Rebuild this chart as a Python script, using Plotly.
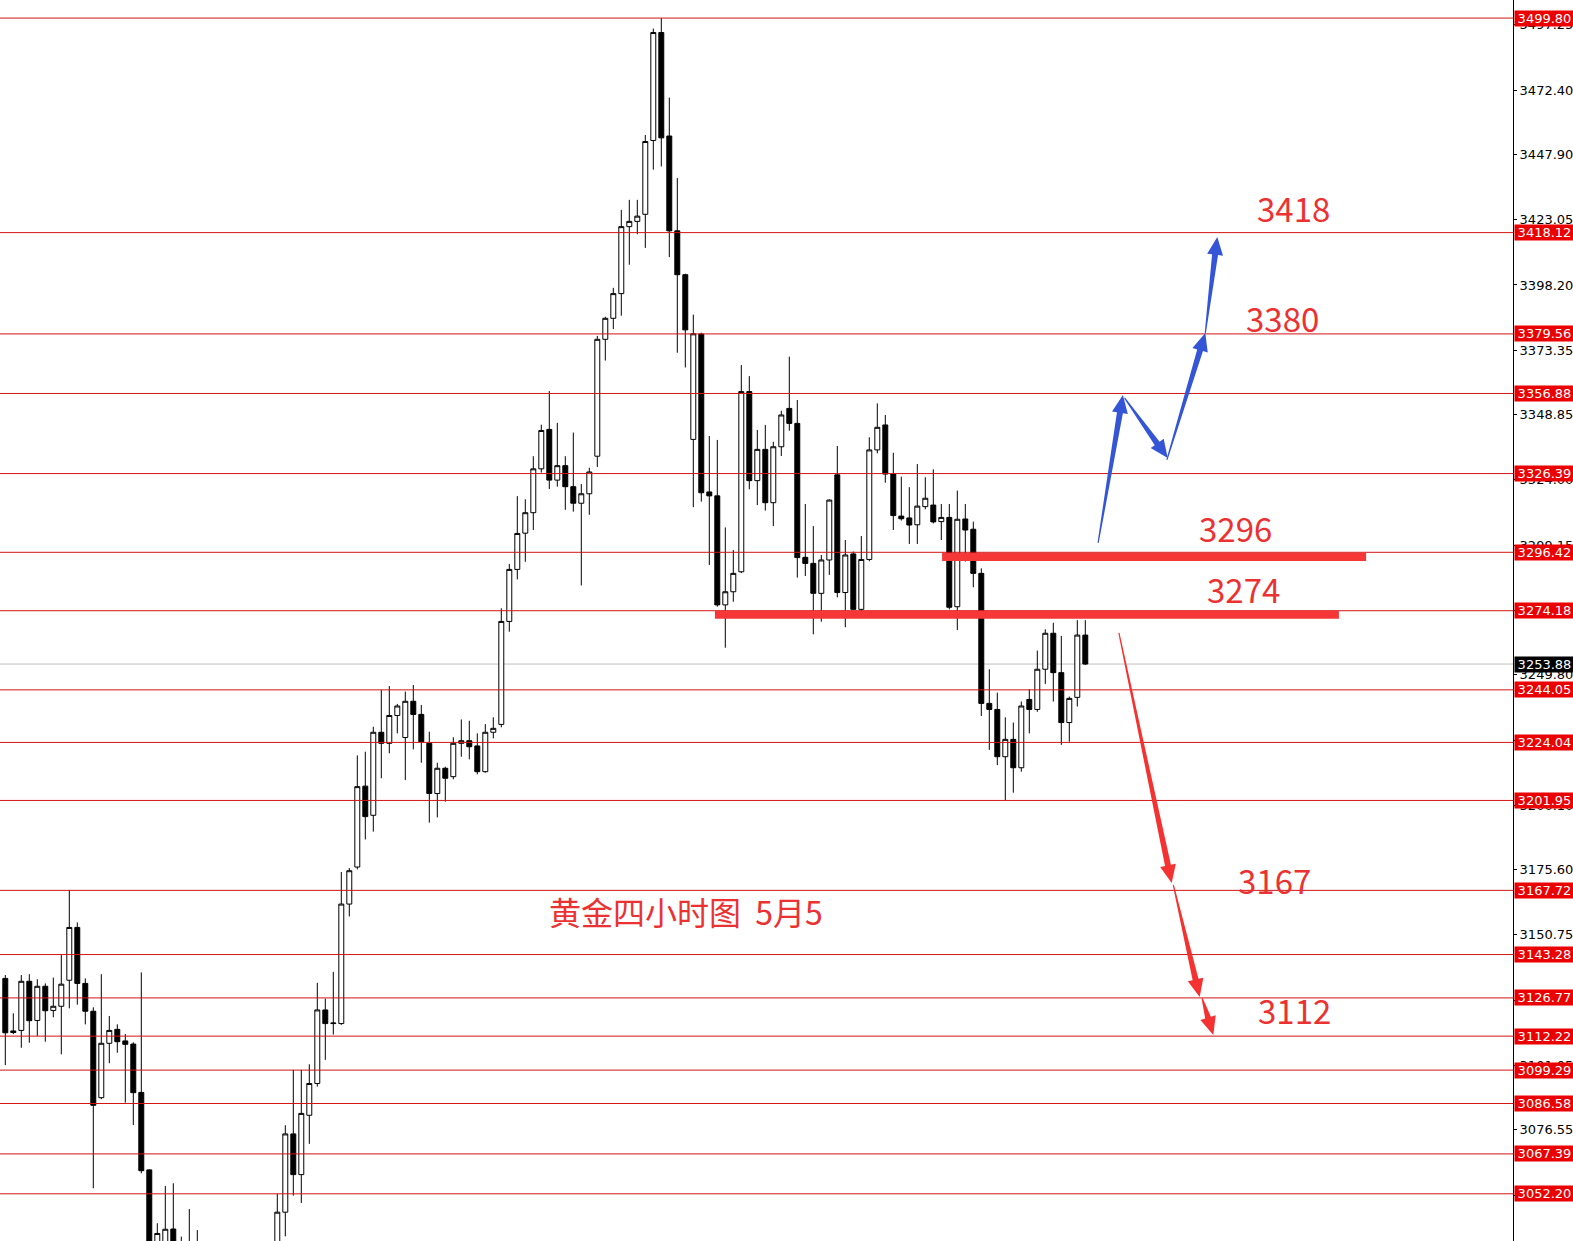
import math
import plotly.graph_objects as go

# ---------------- data ----------------
opens = [3134.2, 3114.2, 3114.4, 3133.1, 3118.2, 3131.2, 3122.0, 3123.6, 3133.5, 3153.6,
         3132.3, 3121.7, 3088.8, 3109.5, 3114.8, 3110.4, 3109.2, 3090.8, 3061.3, 3022.0,
         3030.0, 3038.8, 3026.0, 3022.0, 3018.0, 3012.0, 3004.0, 3010.0, 3000.0, 3008.0,
         3015.0, 3010.0, 3020.0, 3016.0, 3030.0, 3045.2, 3075.0, 3059.5, 3082.1, 3094.2,
         3122.2, 3117.0, 3117.0, 3162.5, 3176.6, 3207.4, 3196.3, 3227.9, 3223.7, 3234.3,
         3225.9, 3239.7, 3234.7, 3223.7, 3204.6, 3214.2, 3211.0, 3223.7, 3224.7, 3222.7,
         3212.9, 3227.9, 3230.9, 3270.1, 3289.9, 3303.7, 3311.5, 3328.2, 3343.2, 3323.9,
         3329.4, 3321.4, 3315.1, 3318.7, 3333.0, 3377.5, 3385.5, 3394.9, 3420.4, 3422.4,
         3425.1, 3453.2, 3494.3, 3454.9, 3418.8, 3402.1, 3339.4, 3379.5, 3319.4, 3317.9,
         3276.4, 3281.4, 3289.0, 3357.6, 3323.7, 3335.6, 3315.3, 3336.6, 3351.2, 3345.5,
         3294.5, 3292.2, 3280.8, 3293.5, 3325.9, 3281.1, 3295.8, 3274.7, 3293.7, 3335.4,
         3344.9, 3326.2, 3310.2, 3309.5, 3306.9, 3313.8, 3314.4, 3308.1, 3309.7, 3275.7,
         3309.1, 3305.2, 3288.4, 3238.9, 3236.6, 3218.6, 3225.2, 3214.4, 3240.4, 3236.6,
         3251.9, 3265.6, 3250.6, 3231.6, 3241.2, 3264.9]
highs = [3135.5, 3120.9, 3135.5, 3135.8, 3133.9, 3132.3, 3134.5, 3143.1, 3167.9, 3155.5,
         3134.2, 3123.2, 3135.8, 3119.9, 3116.7, 3113.0, 3109.9, 3136.5, 3061.5, 3041.0,
         3055.2, 3056.2, 3035.9, 3046.4, 3038.4, 3025.0, 3018.0, 3022.0, 3015.0, 3024.0,
         3028.0, 3026.0, 3031.0, 3032.0, 3052.2, 3078.3, 3099.4, 3099.4, 3101.5, 3132.5,
         3126.5, 3136.7, 3174.7, 3176.2, 3219.1, 3220.5, 3230.0, 3244.0, 3245.5, 3238.7,
         3243.4, 3245.9, 3238.3, 3228.1, 3216.3, 3214.8, 3226.0, 3232.8, 3232.3, 3227.5,
         3231.0, 3233.6, 3275.1, 3292.0, 3317.8, 3316.6, 3333.0, 3345.0, 3357.8, 3345.7,
         3333.0, 3342.0, 3322.4, 3328.6, 3378.8, 3386.1, 3397.1, 3426.8, 3430.6, 3430.6,
         3455.3, 3495.8, 3499.8, 3469.5, 3438.9, 3402.5, 3386.9, 3380.0, 3340.7, 3339.2,
         3305.9, 3297.3, 3367.7, 3363.5, 3343.0, 3344.9, 3338.5, 3350.3, 3370.9, 3354.4,
         3314.8, 3306.4, 3295.4, 3316.6, 3336.9, 3301.1, 3296.7, 3302.6, 3340.2, 3353.1,
         3348.7, 3334.3, 3325.2, 3321.2, 3330.0, 3325.0, 3328.0, 3314.8, 3314.8, 3319.9,
         3314.8, 3308.1, 3290.3, 3251.9, 3243.0, 3233.6, 3231.6, 3239.6, 3244.3, 3259.0,
         3267.1, 3269.6, 3264.6, 3241.5, 3270.6, 3270.6]
lows = [3101.2, 3113.0, 3107.8, 3109.7, 3112.3, 3110.1, 3119.4, 3105.3, 3122.8, 3124.2,
        3116.7, 3054.3, 3088.2, 3101.9, 3105.9, 3086.9, 3078.4, 3060.0, 3012.0, 3015.0,
        3024.0, 3020.0, 3015.0, 3010.0, 3005.0, 2998.0, 2990.0, 2995.0, 2985.0, 2998.0,
        3005.0, 3000.0, 3008.0, 3010.0, 3022.0, 3036.0, 3051.5, 3048.7, 3071.2, 3093.0,
        3103.2, 3112.8, 3116.5, 3157.8, 3175.7, 3187.1, 3190.1, 3210.4, 3219.9, 3227.5,
        3209.7, 3221.4, 3216.3, 3193.5, 3195.5, 3201.5, 3210.0, 3218.6, 3217.6, 3211.9,
        3212.5, 3225.6, 3229.8, 3266.2, 3286.1, 3292.8, 3304.9, 3326.8, 3320.5, 3321.4,
        3312.6, 3311.9, 3283.8, 3310.7, 3328.9, 3369.4, 3381.4, 3386.5, 3405.9, 3417.5,
        3412.3, 3442.1, 3443.3, 3408.8, 3372.4, 3366.8, 3313.6, 3315.7, 3291.6, 3275.7,
        3260.1, 3277.6, 3288.5, 3320.4, 3314.4, 3312.3, 3306.4, 3333.1, 3342.7, 3286.8,
        3287.4, 3265.2, 3270.0, 3287.8, 3279.3, 3267.9, 3274.5, 3273.8, 3293.0, 3334.1,
        3322.9, 3304.9, 3308.5, 3299.6, 3299.6, 3312.8, 3307.4, 3301.1, 3274.7, 3266.8,
        3292.9, 3283.1, 3234.1, 3221.2, 3215.4, 3202.1, 3204.9, 3212.9, 3227.5, 3235.7,
        3246.3, 3239.6, 3223.1, 3224.3, 3237.7, 3253.5]
closes = [3113.5, 3113.6, 3133.1, 3118.1, 3131.2, 3121.9, 3123.6, 3132.0, 3153.6, 3132.3,
          3121.7, 3085.9, 3109.5, 3114.4, 3110.1, 3109.1, 3090.7, 3061.0, 3020.0, 3037.1,
          3038.7, 3026.0, 3022.0, 3018.0, 3012.0, 3004.0, 3010.0, 3000.0, 3008.0, 3015.0,
          3010.0, 3020.0, 3016.0, 3028.0, 3045.2, 3075.0, 3059.5, 3082.8, 3094.2, 3122.2,
          3117.0, 3117.2, 3162.5, 3175.2, 3207.2, 3195.8, 3227.9, 3223.7, 3234.3, 3237.9,
          3239.7, 3234.7, 3224.3, 3204.6, 3214.2, 3210.4, 3223.7, 3224.7, 3222.4, 3212.9,
          3227.9, 3229.4, 3270.1, 3289.9, 3303.6, 3311.5, 3328.2, 3342.8, 3323.9, 3329.4,
          3321.4, 3315.1, 3318.7, 3327.0, 3377.5, 3385.5, 3394.9, 3420.4, 3422.4, 3424.4,
          3452.8, 3494.3, 3454.2, 3418.8, 3402.1, 3381.1, 3379.6, 3319.1, 3317.9, 3276.4,
          3281.4, 3288.4, 3357.6, 3323.7, 3335.6, 3315.3, 3336.6, 3348.7, 3345.5, 3294.4,
          3292.2, 3280.8, 3293.5, 3316.3, 3281.1, 3295.4, 3274.7, 3293.7, 3335.4, 3344.0,
          3326.2, 3310.4, 3309.2, 3306.8, 3314.0, 3317.0, 3308.0, 3309.7, 3275.5, 3309.0,
          3304.9, 3288.4, 3238.9, 3236.6, 3218.6, 3225.2, 3214.4, 3237.9, 3236.6, 3251.9,
          3265.6, 3250.6, 3231.6, 3240.8, 3264.9, 3253.88]

level_lines = [3499.80, 3418.12, 3379.56, 3356.88, 3326.39, 3296.42, 3274.18, 3244.05,
               3224.04, 3201.95, 3167.72, 3143.28, 3126.77, 3112.22, 3099.29, 3086.58,
               3067.39, 3052.20]
current_price = 3253.88
tick_values = [3497.25, 3472.40, 3447.90, 3423.05, 3398.20, 3373.35, 3348.85, 3324.00,
               3299.15, 3274.30, 3249.80, 3224.95, 3200.10, 3175.60, 3150.75, 3125.90,
               3101.05, 3076.55, 3051.70]
tick_labels = ["%.2f" % v for v in tick_values]

# marker lines drawn on chart: (start index, end index, price)
marker_lines = [(88.7, 166.7, 3272.6), (117.1, 170.1, 3294.6)]
# blue scenario arrows (tail index, tail price, tip index, tip price)
blue_arrows = [(136.6, 3300.0, 139.7, 3356.3), (139.9, 3355.2, 145.3, 3332.3),
               (145.2, 3331.6, 150.0, 3379.9), (150.0, 3379.9, 151.5, 3416.5)]
red_arrows = [(139.2, 3265.7, 145.8, 3170.5), (146.0, 3169.8, 149.3, 3127.1),
              (149.6, 3126.7, 151.0, 3112.7)]
# target texts (index, price, text)
target_texts = [(161.0, 3427.5, "3418"), (159.7, 3385.7, "3380"), (153.8, 3305.5, "3296"),
                (154.8, 3282.4, "3274"), (158.6, 3171.5, "3167"), (161.1, 3122.2, "3112")]
title_text = "黄金四小时图  5月5"
title_pos = (85.1, 3159.8)

# ---------------- figure ----------------
W, H = 1573, 1241
MARGIN_R = 60
W_PLOT = W - MARGIN_R
H_PLOT = H
X_RANGE = [-0.6625, -0.6625 + W_PLOT / 8.0]
Y_RANGE = [3034.23, 3506.68]


def to_px(i, p):
    return ((i - X_RANGE[0]) / (X_RANGE[1] - X_RANGE[0]) * W_PLOT,
            (Y_RANGE[1] - p) / (Y_RANGE[1] - Y_RANGE[0]) * H_PLOT)


def to_data(px, py):
    return (X_RANGE[0] + px / W_PLOT * (X_RANGE[1] - X_RANGE[0]),
            Y_RANGE[1] - py / H_PLOT * (Y_RANGE[1] - Y_RANGE[0]))


def arrow_path(i0, p0, i1, p1, hl=18, hw=8, tw=0.6, sw=3.0):
    tx, ty = to_px(i0, p0)
    hx, hy = to_px(i1, p1)
    dx, dy = hx - tx, hy - ty
    L = math.hypot(dx, dy)
    ux, uy = dx / L, dy / L
    nx, ny = -uy, ux
    bx, by = hx - ux * hl, hy - uy * hl
    pts = [(tx + nx * tw, ty + ny * tw), (bx + nx * sw, by + ny * sw),
           (bx + nx * hw, by + ny * hw), (hx, hy),
           (bx - nx * hw, by - ny * hw), (bx - nx * sw, by - ny * sw),
           (tx - nx * tw, ty - ny * tw)]
    d = []
    for k, (px, py) in enumerate(pts):
        xd, yd = to_data(px, py)
        d.append(("M" if k == 0 else "L") + "%.4f,%.4f" % (xd, yd))
    return " ".join(d) + " Z"


idx = list(range(len(opens)))

fig = go.Figure()
fig.add_trace(go.Candlestick(
    x=idx, open=opens, high=highs, low=lows, close=closes,
    increasing=dict(fillcolor="white", line=dict(color="black", width=1)),
    decreasing=dict(fillcolor="black", line=dict(color="black", width=1)),
    whiskerwidth=0, hoverinfo="skip",
))

shapes = []
for lv in level_lines:
    shapes.append(dict(type="line", xref="paper", x0=0, x1=1, yref="y", y0=lv, y1=lv,
                       line=dict(color="rgb(210,20,20)", width=1), layer="above"))
shapes.append(dict(type="line", xref="paper", x0=0, x1=1, yref="y", y0=current_price,
                   y1=current_price, line=dict(color="rgb(192,192,192)", width=1), layer="below"))
for a, b, p in marker_lines:
    shapes.append(dict(type="line", xref="x", yref="y", x0=a, x1=b, y0=p, y1=p,
                       line=dict(color="rgb(245,55,55)", width=8), layer="above"))
for (a, pa, b, pb) in blue_arrows:
    shapes.append(dict(type="path", xref="x", yref="y", path=arrow_path(a, pa, b, pb),
                       fillcolor="rgb(52,86,214)", line=dict(width=0), layer="above"))
for (a, pa, b, pb) in red_arrows:
    shapes.append(dict(type="path", xref="x", yref="y", path=arrow_path(a, pa, b, pb),
                       fillcolor="rgb(245,50,50)", line=dict(width=0), layer="above"))

annotations = []
for lv in level_lines:
    annotations.append(dict(xref="paper", x=1, xanchor="left", xshift=1, yref="y", y=lv,
                            yanchor="middle", text="%.2f" % lv, showarrow=False,
                            bgcolor="rgb(235,0,0)", width=59, height=15, align="center",
                            borderpad=0,
                            font=dict(family="DejaVu Sans", size=13, color="white")))
annotations.append(dict(xref="paper", x=1, xanchor="left", xshift=1, yref="y", y=current_price,
                        yanchor="middle", text="%.2f" % current_price, showarrow=False,
                        bgcolor="black", width=59, height=15, align="center", borderpad=0,
                        font=dict(family="DejaVu Sans", size=13, color="white")))
for (i, p, t) in target_texts:
    annotations.append(dict(xref="x", yref="y", x=i, y=p, text=t, showarrow=False,
                            font=dict(family="Noto Sans CJK SC", size=33,
                                      color="rgb(235,50,50)")))
annotations.append(dict(xref="x", yref="y", x=title_pos[0], y=title_pos[1], text=title_text,
                        showarrow=False,
                        font=dict(family="Noto Sans CJK SC", size=32, color="rgb(235,50,50)")))

fig.update_layout(
    width=W, height=H,
    margin=dict(l=0, r=MARGIN_R, t=0, b=0),
    paper_bgcolor="white", plot_bgcolor="white",
    showlegend=False,
    boxgap=0.38, boxgroupgap=0,
    shapes=shapes, annotations=annotations,
    xaxis=dict(range=X_RANGE, visible=False, rangeslider=dict(visible=False),
               showgrid=False, zeroline=False, fixedrange=True),
    yaxis=dict(range=Y_RANGE, side="right", showgrid=False, zeroline=False,
               tickmode="array", tickvals=tick_values, ticktext=tick_labels,
               ticks="outside", ticklen=3, tickcolor="black",
               showline=True, linecolor="black", linewidth=1,
               tickfont=dict(family="DejaVu Sans", size=13, color="black"),
               fixedrange=True),
)

fig.write_html("out.html", config={"displayModeBar": False},
               post_script="document.body.style.margin='0';")
